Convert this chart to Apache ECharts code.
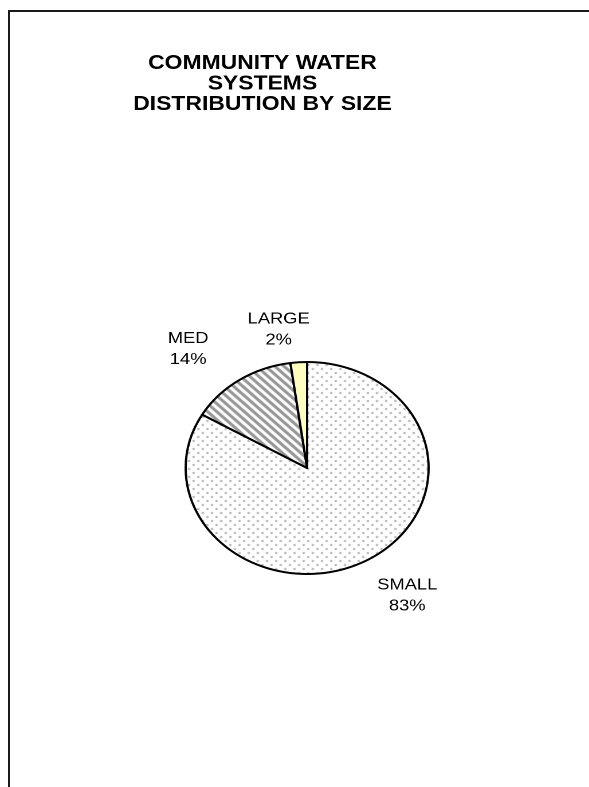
<!DOCTYPE html>
<html>
<head>
<meta charset="utf-8">
<script src="https://cdn.jsdelivr.net/npm/echarts@6/dist/echarts.min.js"></script>
<style>
  html, body { margin: 0; padding: 0; background: #ffffff; }
  body { width: 589px; height: 787px; position: relative; overflow: hidden; }
  .frame {
    position: absolute;
    left: 8px;
    top: 10px;
    right: -10px;
    bottom: -10px;
    border-left: 2px solid #1a1a1a;
    border-top: 2px solid #1a1a1a;
  }
  /* the original picture is stretched sideways, so the chart is too */
  #chart {
    position: absolute;
    left: 0;
    top: 0;
    width: 514px;
    height: 787px;
    transform: scaleX(1.146);
    transform-origin: 0 0;
  }
</style>
</head>
<body>
<div class="frame"></div>
<div id="chart"></div>
<script>
// data
const categories = ['SMALL', 'MED', 'LARGE'];
const shares = [83.4, 14.4, 2.2];
const titleLines = ['COMMUNITY WATER', 'SYSTEMS', 'DISTRIBUTION BY SIZE'];

// layout (chart coords, before the sideways stretch)
const CX = 268, CY = 468;
const R = 106;

const makePattern = (draw) => {
  const c = document.createElement('canvas');
  c.width = 8;
  c.height = 8;
  const ctx = c.getContext('2d');
  ctx.fillStyle = '#ffffff';
  ctx.fillRect(0, 0, 8, 8);
  draw(ctx);
  return { image: c, repeat: 'repeat' };
};

const dots = makePattern(ctx => {
  ctx.fillStyle = '#b4b4b4';
  ctx.fillRect(0, 0, 2, 2);
  ctx.fillRect(4, 4, 2, 2);
});

const stripes = makePattern(ctx => {
  ctx.fillStyle = '#969696';
  for (let y = 0; y < 8; y++) {
    for (let x = 0; x < 8; x++) {
      if ((((x - y) % 8) + 8) % 8 < 4) ctx.fillRect(x, y, 1, 1);
    }
  }
});

const fills = [dots, stripes, '#ffffc0'];

// mid angle of each slice, clockwise from 12 o'clock
const total = shares.reduce((a, b) => a + b, 0);
const midAngles = [];
let acc = 0;
shares.forEach(v => {
  midAngles.push((acc + v / 2) / total * Math.PI * 2);
  acc += v;
});

const chart = echarts.init(document.getElementById('chart'), null, { devicePixelRatio: 2 });
chart.setOption({
  animation: false,
  backgroundColor: 'transparent',
  title: {
    text: titleLines.join('\n'),
    left: 229,
    top: 53,
    textAlign: 'center',
    padding: 0,
    textStyle: {
      fontFamily: 'Liberation Sans',
      fontWeight: 'bold',
      fontSize: 20,
      lineHeight: 20.5,
      color: '#000'
    }
  },
  series: [{
    type: 'pie',
    center: [CX, CY],
    radius: R,
    startAngle: 90,
    clockwise: true,
    silent: true,
    itemStyle: { borderColor: '#000', borderWidth: 2 },
    emphasis: { disabled: true },
    labelLine: { show: false },
    label: {
      show: true,
      position: 'outside',
      fontFamily: 'Liberation Sans',
      fontSize: 16,
      lineHeight: 21,
      color: '#000',
      formatter: p => p.name + '\n' + Math.round(p.percent) + '%'
    },
    labelLayout: params => {
      // centre the label box just outside the rim, along the slice's mid angle,
      // nudged sideways away from the pie
      const a = midAngles[params.dataIndex];
      const s = Math.sin(a), c = Math.cos(a);
      const w = params.labelRect.width, h = params.labelRect.height;
      const reach = R + 10 + Math.abs(s) * w / 2 + Math.abs(c) * h / 2;
      const nudge = s >= 0 ? 14 : -14 + 18 * s;
      return {
        x: CX + reach * s + nudge,
        y: CY - reach * c,
        align: 'center',
        verticalAlign: 'middle'
      };
    },
    data: categories.map((name, i) => ({
      name,
      value: shares[i],
      itemStyle: { color: fills[i] }
    }))
  }]
});
</script>
</body>
</html>
